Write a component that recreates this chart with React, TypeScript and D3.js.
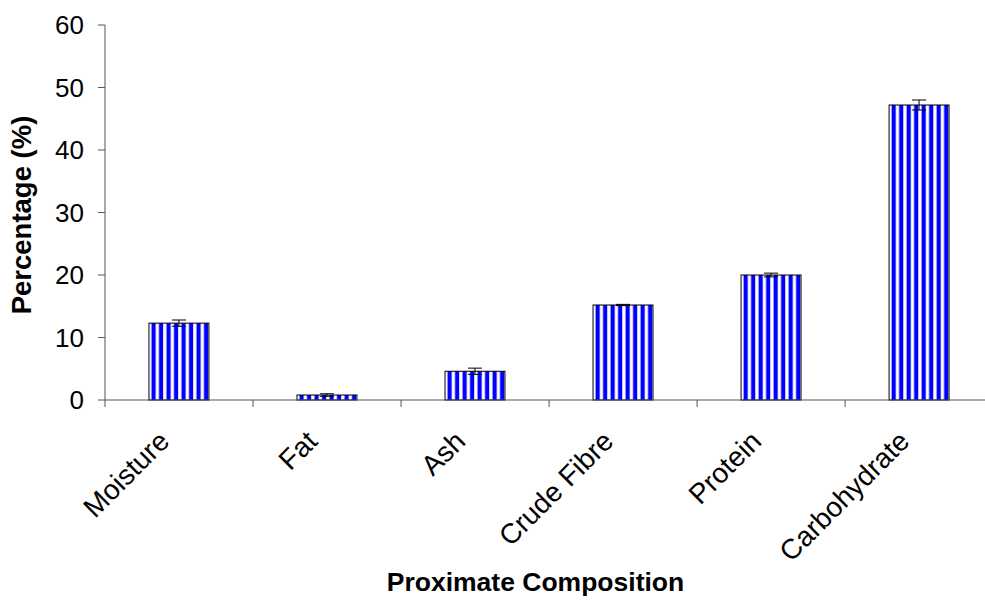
import React from "react";
import * as d3 from "d3";

const categories = ["Moisture", "Fat", "Ash", "Crude Fibre", "Protein", "Carbohydrate"];
const values = [12.3, 0.8, 4.6, 15.2, 20.0, 47.2];
const errors = [0.5, 0.2, 0.5, 0.1, 0.3, 0.8];
const yTicks = [0, 10, 20, 30, 40, 50, 60];

const W = 985;
const H = 602;
const margin = { top: 25, right: -8, bottom: 202, left: 105 };

export default function App() {
  const innerW = W - margin.left - margin.right;
  const innerH = H - margin.top - margin.bottom;

  const x = d3.scaleBand().domain(categories).range([0, innerW]).paddingInner(0.595).paddingOuter(0.297);
  const y = d3.scaleLinear().domain([0, 60]).range([innerH, 0]);
  const bw = x.bandwidth();
  const step = x.step();
  const font = "'Liberation Sans', Arial, sans-serif";

  return (
    <svg width={W} height={H} style={{ position: "absolute", left: 0, top: 0, background: "#fff" }}>
      <defs>
        {categories.map((c, i) => (
          <pattern
            key={c}
            id={`stripe${i}`}
            patternUnits="userSpaceOnUse"
            x={margin.left + (x(c) as number)}
            width={7.5}
            height={10}
          >
            <rect width={7.5} height={10} fill="#fff" />
            <rect x={2.5} width={4.2} height={10} fill="#0000ff" />
          </pattern>
        ))}
      </defs>
      <g transform={`translate(${margin.left},${margin.top})`}>
        {/* bars */}
        {categories.map((c, i) => (
          <rect
            key={c}
            x={x(c)}
            y={y(values[i])}
            width={bw}
            height={innerH - y(values[i])}
            fill={`url(#stripe${i})`}
            stroke="#000"
            strokeWidth={1}
          />
        ))}
        {/* error bars */}
        {categories.map((c, i) => {
          const cx = (x(c) as number) + bw / 2;
          const y1 = y(values[i] + errors[i]);
          const y2 = y(values[i] - errors[i]);
          return (
            <g key={c} stroke="#000" strokeWidth={1}>
              <line x1={cx} x2={cx} y1={y1} y2={y2} />
              <line x1={cx - 7} x2={cx + 7} y1={y1} y2={y1} />
              <line x1={cx - 7} x2={cx + 7} y1={y2} y2={y2} />
            </g>
          );
        })}
        {/* y axis */}
        <line x1={0} x2={0} y1={0} y2={innerH} stroke="#555" />
        {yTicks.map((t) => (
          <g key={t} transform={`translate(0,${y(t)})`}>
            <line x1={-7} x2={0} stroke="#555" />
            <text x={-21} dy="0.35em" textAnchor="end" fontFamily={font} fontSize={26}>
              {t}
            </text>
          </g>
        ))}
        {/* x axis */}
        <line x1={0} x2={innerW} y1={innerH} y2={innerH} stroke="#555" />
        {categories.map((c, i) => (
          <line key={c} x1={i * step} x2={i * step} y1={innerH} y2={innerH + 7} stroke="#555" />
        ))}
        {categories.map((c) => {
          const cx = (x(c) as number) + bw / 2;
          return (
            <text
              key={c}
              transform={`translate(${cx - 8},${innerH + 43}) rotate(-45)`}
              textAnchor="end"
              fontFamily={font}
              fontSize={28}
            >
              {c}
            </text>
          );
        })}
        <text
          x={430.5}
          y={innerH + 191}
          textAnchor="middle"
          fontFamily={font}
          fontSize={26.5}
          fontWeight="bold"
        >
          Proximate Composition
        </text>
        <text
          transform={`translate(${-74.5},${190}) rotate(-90)`}
          textAnchor="middle"
          fontFamily={font}
          fontSize={27.5}
          fontWeight="bold"
        >
          Percentage (%)
        </text>
      </g>
    </svg>
  );
}
